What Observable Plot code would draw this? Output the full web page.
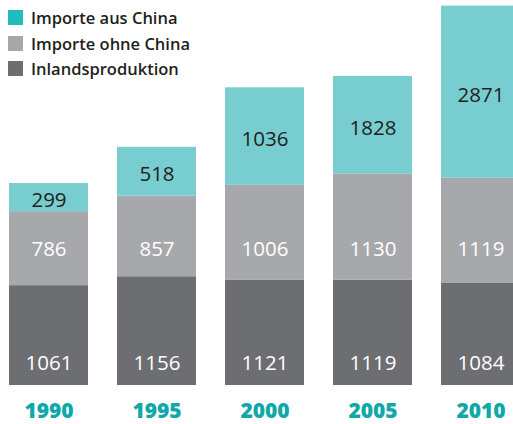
<!DOCTYPE html>
<html>
<head>
<meta charset="utf-8">
<script src="https://cdn.jsdelivr.net/npm/d3@7"></script>
<script src="https://cdn.jsdelivr.net/npm/@observablehq/plot@0.6"></script>
<style>
  html, body { margin: 0; padding: 0; background: #fff; }
  #wrap { position: relative; width: 513px; height: 424px; overflow: hidden; }
  #legend { position: absolute; left: 8px; top: 5px; font-family: "Open Sans", sans-serif; font-weight: 600; font-size: 16.5px; color: #231f20; }
  .row { display: flex; align-items: center; height: 25.5px; }
  .sw { width: 15px; height: 15px; margin-right: 8px; flex: none; }
</style>
</head>
<body>
<div id="wrap"><div id="legend"></div></div>
<script>
// Data
const years = ["1990", "1995", "2000", "2005", "2010"];
const seriesNames = ["Inlandsproduktion", "Importe ohne China", "Importe aus China"];
const inland = [1061, 1156, 1121, 1119, 1084];
const importeOhneChina = [786, 857, 1006, 1130, 1119];
const importeAusChina = [299, 518, 1036, 1828, 2871];
// bar heights of the China segment as drawn in the original (the last two bars are truncated)
const importeAusChinaDrawn = [299, 518, 1036, 1036, 1828];

const legendOrder = ["Importe aus China", "Importe ohne China", "Inlandsproduktion"];
const barColors = ["#6d6e71", "#a7a8ab", "#78cdd0"];
const legendColors = { "Importe aus China": "#22bcbe", "Importe ohne China": "#a7a8ab", "Inlandsproduktion": "#6d6e71" };

// Build stacked rows
const rows = [];
years.forEach((year, i) => {
  const shown = [inland[i], importeOhneChina[i], importeAusChinaDrawn[i]];
  const labels = [inland[i], importeOhneChina[i], importeAusChina[i]];
  let base = 0;
  seriesNames.forEach((s, j) => {
    rows.push({ year, series: s, y1: base, y2: base + shown[j], mid: base + shown[j] / 2, label: labels[j] });
    base += shown[j];
  });
});

const font = "'Open Sans', sans-serif";

const chart = Plot.plot({
  width: 513,
  height: 424,
  marginTop: 0,
  marginBottom: 39,
  marginLeft: 8,
  marginRight: -8,
  style: { fontFamily: font, background: "transparent" },
  x: { type: "band", domain: years, paddingInner: 0.272, paddingOuter: 0, axis: null },
  y: { domain: [0, 4091], axis: null },
  color: { domain: seriesNames, range: barColors },
  marks: [
    Plot.barY(rows, { x: "year", y1: "y1", y2: "y2", fill: "series", insetLeft: 0, insetRight: 0 }),
    // Inlandsproduktion labels near bar bottom
    Plot.text(rows.filter(d => d.series === seriesNames[0]), {
      x: "year", y: "y1", text: d => String(d.label), dy: -22, lineAnchor: "middle",
      fill: "white", fontSize: 20.5, fontFamily: font
    }),
    // Importe ohne China labels at a common height
    Plot.text(rows.filter(d => d.series === seriesNames[1]), {
      x: "year", y: () => 0, text: d => String(d.label), dy: -136, lineAnchor: "middle",
      fill: "white", fontSize: 20.5, fontFamily: font
    }),
    // Importe aus China labels
    Plot.text(rows.filter(d => d.series === seriesNames[2]), {
      x: "year", y: "mid", text: d => String(d.label), dy: 3, lineAnchor: "middle",
      fill: "#231f20", fontSize: 20.5, fontFamily: font
    }),
    // Year labels
    Plot.text(years, {
      x: d => d, frameAnchor: "bottom", dy: 26, lineAnchor: "middle", text: d => d,
      fill: "#10a8a8", fontSize: 21, fontWeight: 800, fontFamily: font
    })
  ]
});

const wrap = document.getElementById("wrap");
wrap.insertBefore(chart, wrap.firstChild);

const legend = document.getElementById("legend");
legendOrder.forEach(name => {
  const row = document.createElement("div");
  row.className = "row";
  const sw = document.createElement("span");
  sw.className = "sw";
  sw.style.background = legendColors[name];
  const t = document.createElement("span");
  t.textContent = name;
  row.appendChild(sw);
  row.appendChild(t);
  legend.appendChild(row);
});
</script>
</body>
</html>
